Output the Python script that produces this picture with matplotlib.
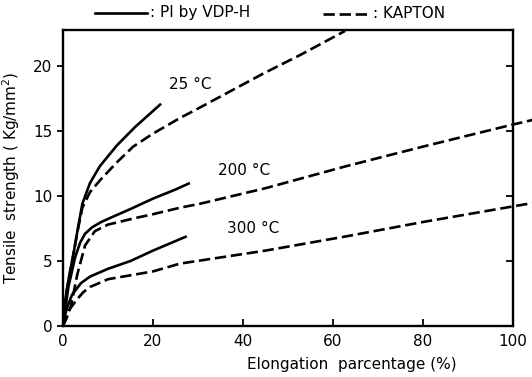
import matplotlib
matplotlib.use("Agg")
import matplotlib.pyplot as plt
from matplotlib.lines import Line2D

# PI by VDP-H (solid)
pi25_x = [0, 0.5, 1.2, 2.3, 3.3, 4.3, 6.0, 8.2, 12.0, 16.0, 21.8]
pi25_y = [0, 2.0, 3.5, 5.5, 7.5, 9.4, 11.0, 12.3, 13.9, 15.3, 17.1]
pi200_x = [0, 0.4, 1.2, 2.7, 3.8, 4.9, 6.5, 8.5, 10.4, 15.0, 20.0, 25.0, 28.2]
pi200_y = [0, 1.0, 3.0, 5.3, 6.4, 7.1, 7.6, 8.0, 8.3, 9.0, 9.8, 10.5, 11.0]
pi300_x = [0, 0.5, 1.0, 2.0, 4.0, 6.0, 10.0, 15.0, 20.0, 27.5]
pi300_y = [0, 0.9, 1.5, 2.4, 3.3, 3.8, 4.4, 5.0, 5.8, 6.9]

# KAPTON (dashed)
kap25_x = [0, 0.5, 1.2, 2.3, 3.3, 4.3, 6.0, 8.2, 12.0, 15.6, 20.0, 26.0, 30.4, 44.4, 53.0, 62.7]
kap25_y = [0, 2.0, 3.5, 5.5, 7.4, 9.1, 10.3, 11.2, 12.6, 13.8, 14.8, 16.0, 16.8, 19.4, 20.9, 22.7]
kap200_x = [0, 0.8, 1.8, 3.2, 4.9, 7.1, 10.0, 16.0, 20.0, 26.0, 30.4, 45.0, 63.0, 80.0, 100.0, 105.0]
kap200_y = [0, 0.6, 1.6, 4.0, 6.2, 7.3, 7.8, 8.3, 8.6, 9.1, 9.4, 10.6, 12.3, 13.8, 15.5, 15.9]
kap300_x = [0, 0.5, 1.5, 3.0, 4.5, 6.0, 8.0, 10.0, 15.0, 20.0, 26.0, 45.0, 63.0, 80.0, 100.0, 105.0]
kap300_y = [0, 0.6, 1.3, 2.0, 2.6, 3.0, 3.3, 3.6, 3.9, 4.2, 4.8, 5.8, 6.9, 8.0, 9.2, 9.5]

x_ticks = [0, 20, 40, 60, 80, 100]
y_ticks = [0, 5, 10, 15, 20]
temp_labels = ["25 °C", "200 °C", "300 °C"]
temp_label_pos = [(23.5, 18.6), (34.5, 12.0), (36.5, 7.5)]

plt.rcParams['font.family'] = ['DejaVu Sans']
fig = plt.figure(figsize=(5.32, 3.77), dpi=100)
ax = fig.add_axes([63/532, 1 - 326/377, 450/532, 296/377])

lw = 1.9
dash = (0, (4.3, 1.8))
for xs, ys in [(pi25_x, pi25_y), (pi200_x, pi200_y), (pi300_x, pi300_y)]:
    ax.plot(xs, ys, color='black', lw=lw, solid_capstyle='butt')
for xs, ys in [(kap25_x, kap25_y), (kap200_x, kap200_y), (kap300_x, kap300_y)]:
    ax.plot(xs, ys, color='black', lw=lw, linestyle=dash, clip_on=False)

ax.set_xlim(0, 100)
ax.set_ylim(0, 22.77)
ax.set_xticks(x_ticks)
ax.set_yticks(y_ticks)
ax.tick_params(axis='x', direction='in', length=5, width=1.3, labelsize=11, pad=6)
ax.tick_params(axis='y', direction='out', length=4, width=1.3, labelsize=11, right=True)
for s in ax.spines.values():
    s.set_linewidth(1.7)

# right ticks inward (left ticks outward)
for t in ax.yaxis.get_major_ticks():
    t.tick2line.set_marker(matplotlib.markers.TICKLEFT)
    t.tick2line.set_markersize(5)

for lab, (x, y) in zip(temp_labels, temp_label_pos):
    ax.text(x, y, lab, fontsize=11, ha='left', va='center')

ax.set_ylabel("Tensile  strength ( Kg/mm$^2$)", fontsize=11, labelpad=8)
fig.text(352/532, 1 - 365/377, "Elongation  parcentage (%)", fontsize=11, ha='center', va='center')

# legend above axes
fig.add_artist(Line2D([95/532, 147/532], [1 - 13/377, 1 - 13/377], color='black', lw=lw))
fig.text(150/532, 1 - 13/377, ": PI by VDP-H", fontsize=11, ha='left', va='center')
fig.add_artist(Line2D([323/532, 370/532], [1 - 14/377, 1 - 14/377], color='black', lw=lw,
                      linestyle=dash))
fig.text(373/532, 1 - 14/377, ": KAPTON", fontsize=11, ha='left', va='center')

fig.savefig("out.png", dpi=100)
